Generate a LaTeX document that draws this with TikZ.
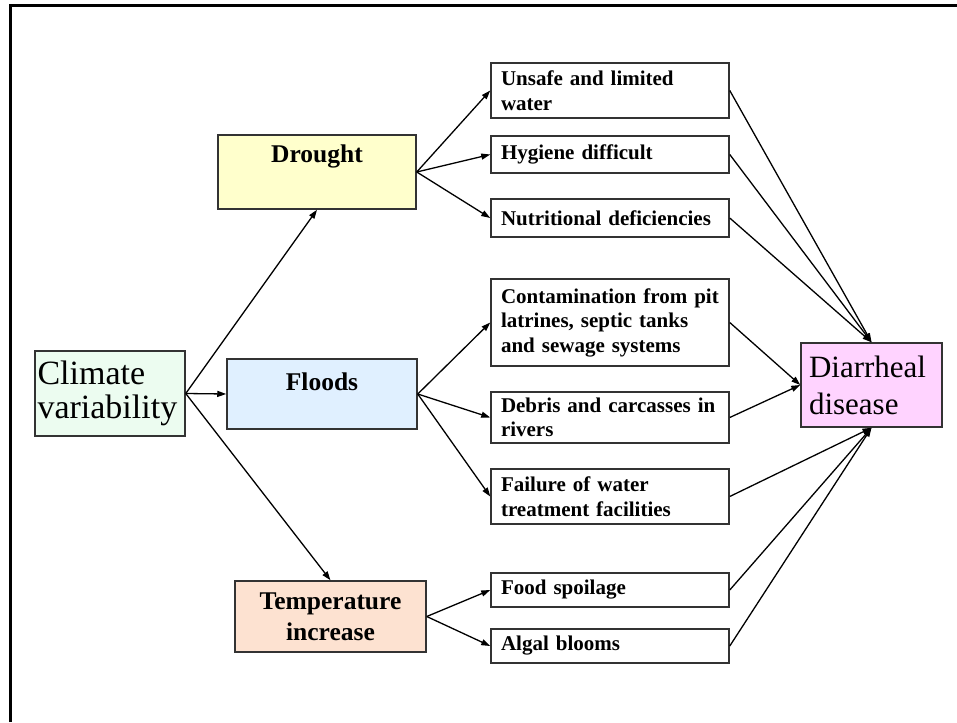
\documentclass[tikz,border=0pt]{standalone}
\usepackage{fontspec}
\setmainfont{Liberation Serif}
\usetikzlibrary{arrows.meta}

\definecolor{climfill}{RGB}{236,252,240}
\definecolor{droughtfill}{RGB}{255,255,204}
\definecolor{floodfill}{RGB}{224,240,255}
\definecolor{tempfill}{RGB}{253,226,209}
\definecolor{diarrfill}{RGB}{255,211,255}

\begin{document}
\begin{tikzpicture}[x=1pt,y=-1pt,
    box/.style={draw=black!80, line width=1.5pt, inner sep=0pt},
    effect/.style={box, font=\fontsize{21}{24.5}\selectfont\bfseries,
      align=left, text width=218pt, inner xsep=10pt},
    hazard/.style={box, font=\fontsize{25.5}{31}\selectfont\bfseries, align=center},
    arr/.style={-{Triangle[length=9pt,width=6pt]}, line width=1.3pt}]
      \useasboundingbox (0,0) rectangle (957,722);
      \draw [line width=3pt] (10.5,722) -- (10.5,6) -- (957,6);

      \node [box, fill=climfill, align=left, text width=145pt, inner xsep=2.5pt,
             minimum height=85pt, font=\fontsize{34}{34}\selectfont]
            (ClimN)    at (110,393.5) {Climate\\variability};

      \node [hazard, fill=droughtfill, minimum width=198pt,
             text height=27pt, text depth=47pt]
            (DroughtN) at (317,172)   {Drought};
      \node [hazard, fill=floodfill, minimum width=190pt,
             text height=31pt, text depth=39pt]
            (FloodsN)  at (322,394)   {Floods};
      \node [hazard, fill=tempfill, minimum width=191pt, minimum height=71pt]
            (TempN)    at (330.5,616.5) {Temperature\\increase};

      \node [effect, minimum height=55pt] (UnsafeN)  at (610,90.5)  {Unsafe and limited\\water};
      \node [effect, minimum height=37pt] (HygN)     at (610,154.5) {Hygiene difficult};
      \node [effect, minimum height=38pt] (NutrN)    at (610,218)   {Nutritional deficiencies};

      \node [effect, minimum height=87pt] (ContamN)  at (610,322.5) {Contamination from pit\\latrines, septic tanks\\and sewage systems};
      \node [effect, minimum height=51pt] (DebrisN)  at (610,417.5) {Debris and carcasses in\\rivers};
      \node [effect, minimum height=55pt] (FailN)    at (610,496.5) {Failure of water\\treatment facilities};

      \node [effect, minimum height=34pt] (FoodN)    at (610,590)   {Food spoilage};
      \node [effect, minimum height=34pt] (AlgalN)   at (610,646)   {Algal blooms};

      \node [box, fill=diarrfill, align=left, text width=125pt, inner xsep=8pt,
             minimum height=84pt, font=\fontsize{31}{37}\selectfont]
            (DiarrN)   at (871.5,385) {Diarrheal\\disease};

      \draw [arr] (ClimN.east)    -- (DroughtN.south);
      \draw [arr] (ClimN.east)    -- (FloodsN.west);
      \draw [arr] (ClimN.east)    -- (TempN.north);

      \draw [arr] (DroughtN.east) -- (UnsafeN.west);
      \draw [arr] (DroughtN.east) -- (HygN.west);
      \draw [arr] (DroughtN.east) -- (NutrN.west);

      \draw [arr] (FloodsN.east)  -- (ContamN.west);
      \draw [arr] (FloodsN.east)  -- (DebrisN.west);
      \draw [arr] (FloodsN.east)  -- (FailN.west);

      \draw [arr] (TempN.east)    -- (FoodN.west);
      \draw [arr] (TempN.east)    -- (AlgalN.west);

      \draw [arr] (UnsafeN.east)  -- (DiarrN.north);
      \draw [arr] (HygN.east)     -- (DiarrN.north);
      \draw [arr] (NutrN.east)    -- (DiarrN.north);

      \draw [arr] (ContamN.east)  -- (DiarrN.west);
      \draw [arr] (DebrisN.east)  -- (DiarrN.west);

      \draw [arr] (FailN.east)    -- (DiarrN.south);
      \draw [arr] (FoodN.east)    -- (DiarrN.south);
      \draw [arr] (AlgalN.east)   -- (DiarrN.south);
\end{tikzpicture}
\end{document}
